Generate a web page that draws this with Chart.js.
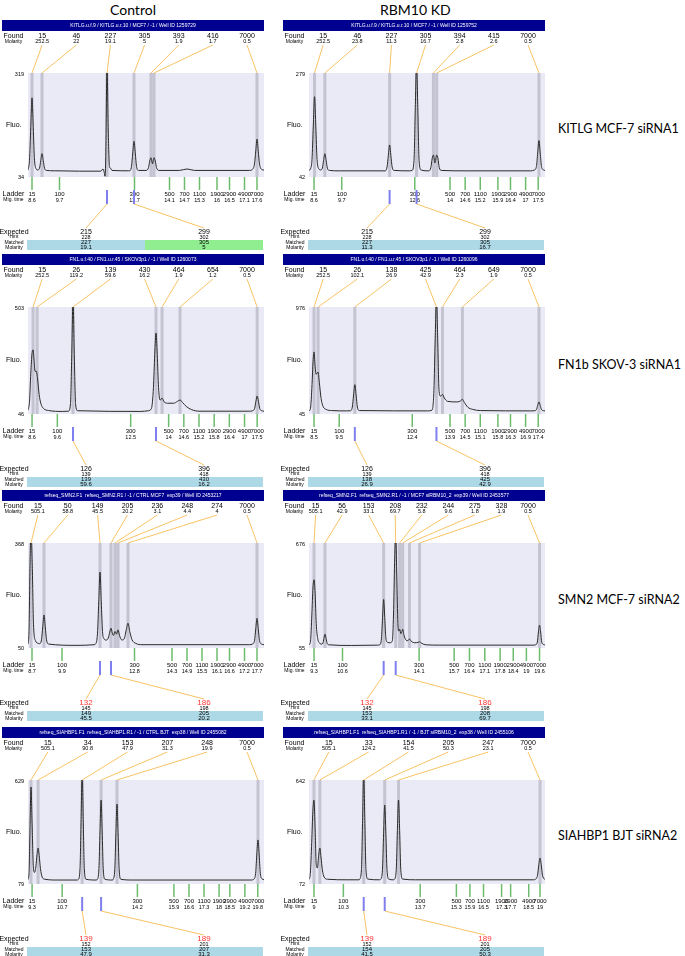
<!DOCTYPE html>
<html><head><meta charset="utf-8">
<script src="https://cdn.jsdelivr.net/npm/chart.js@4"></script>
<style>
html,body{margin:0;padding:0;background:#fff}
body{width:685px;height:956px;position:relative;overflow:hidden}
canvas{position:absolute}
.title{position:absolute;top:1px;font:14px Lato,"Open Sans",sans-serif;color:#000;white-space:nowrap}
.rowlab{position:absolute;left:558px;font:12.5px Lato,"Open Sans",sans-serif;color:#000;white-space:nowrap}
</style></head><body>
<div class="title" style="left:110px">Control</div>
<div class="title" style="left:380px">RBM10 KD</div>
<div class="rowlab" style="top:121px">KITLG MCF-7 siRNA1</div>
<div class="rowlab" style="top:357px">FN1b SKOV-3 siRNA1</div>
<div class="rowlab" style="top:592px">SMN2 MCF-7 siRNA2</div>
<div class="rowlab" style="top:828px">SIAHBP1 BJT siRNA2</div>
<script>
// ---------- shared ----------
const ladderSizes = [15, 100, 300, 500, 700, 1100, 1900, 2900, 4900, 7000];

// ---------- KITLG, Control ----------
const p1cHeader = "KITLG.u.f.9 / KITLG.u.r.10 / MCF7 / -1 / Well ID 1259729";
const p1cYRange = [34, 319];
const p1cXRange = [8.44, 17.88];
const p1cTime = [8.44,8.50,8.55,8.60,8.65,8.70,8.78, 8.82,8.90,8.95,9.0,9.05,9.10,9.18, 9.5,10.5,11.35,11.44,11.49,11.52, 11.55,11.60,11.65,11.70,11.74,11.80, 12.45,12.50,12.58,12.63,12.68,12.73,12.78,12.86, 13.18,13.26,13.31,13.36,13.42,13.48,13.53,13.58,13.66, 14.5,14.8,15.1, 17.30,17.42,17.50,17.55,17.60,17.65,17.70,17.78,17.88];
const p1cFluo = [53,80,170,251,170,80,55, 53,58,79,98,79,58,52, 51,50,50,56,46,36, 90,340,160,62,58,52, 51,51,63,100,132,100,63,52, 52,60,78,87,70,87,78,60,52, 52,56,52, 52,55,70,105,138,105,70,55,53];
const p1cFoundSize = ["15","46","227","305","393","416","7000"];
const p1cFoundMol = ["252.5","22","19.1","5","1.9","1.7","0.5"];
const p1cFoundTime = [8.6, 9.0, 11.6, 12.68, 13.36, 13.48, 17.6];
const p1cLadderTime = [8.6, 9.7, 12.7, 14.1, 14.7, 15.3, 16, 16.5, 17.1, 17.6];
const p1cExpected = ["215","299"], p1cHint = ["228","302"], p1cMatched = ["227","305"], p1cMatchMol = ["19.1","5"];
const p1cMatchedTime = [11.6, 12.68];

// ---------- KITLG, RBM10 KD ----------
const p1kHeader = "KITLG.u.f.9 / KITLG.u.r.10 / MCF7 / -1 / Well ID 1259752";
const p1kYRange = [42, 279];
const p1kXRange = [8.40, 17.77];
const p1kTime = [8.40,8.47,8.52,8.57,8.62,8.67,8.72,8.80, 8.86,8.93,8.98,9.03,9.08,9.13,9.21, 9.6,11.3, 11.42,11.50,11.55,11.6,11.65,11.70,11.78, 12.40,12.49,12.57,12.62,12.67,12.72,12.77,12.85, 13.16,13.24,13.29,13.34,13.40,13.47,13.52,13.57,13.65, 14.6,17.20, 17.35,17.43,17.48,17.53,17.58,17.63,17.71,17.77];
const p1kFluo = [57,62,82,158,225,158,82,60, 58,62,80,95,80,62,57, 56,56, 56,65,91,115,91,65,57, 56,57,80,200,300,200,80,58, 56,64,84,92,74,92,84,64,57, 56,56, 58,66,97,125,97,66,58,57];
const p1kFoundSize = ["15","46","227","305","394","415","7000"];
const p1kFoundMol = ["252.5","23.8","11.3","16.7","2.8","2.6","0.5"];
const p1kFoundTime = [8.62, 9.03, 11.6, 12.67, 13.34, 13.47, 17.53];
const p1kLadderTime = [8.6, 9.7, 12.6, 14, 14.6, 15.2, 15.9, 16.4, 17, 17.5];
const p1kExpected = ["215","299"], p1kHint = ["228","302"], p1kMatched = ["227","305"], p1kMatchMol = ["11.3","16.7"];
const p1kMatchedTime = [11.6, 12.67];

// ---------- FN1b, Control ----------
const p2cHeader = "FN1.u.f.40 / FN1.u.r.45 / SKOV3p1 / -1 / Well ID 1260073";
const p2cYRange = [46, 503];
const p2cXRange = [8.44, 17.77];
const p2cTime = [8.44,8.50,8.55,8.60,8.64,8.68,8.72,8.77,8.82,8.88,8.95,9.05,9.25,9.8, 10.04,10.12,10.17,10.22,10.27,10.32,10.40, 12.9,13.2,13.32,13.40,13.45,13.5,13.55,13.60,13.66,13.74,13.82,13.95,14.2,14.35,14.45,14.55,14.7,14.9,15.2,17.2, 17.32,17.40,17.45,17.5,17.55,17.60,17.68,17.77];
const p2cFluo = [62,100,220,305,320,275,228,228,195,130,90,70,61,57, 58,90,300,540,300,90,60, 57,60,70,160,300,392,300,160,105,114,98,92,92,100,106,95,78,65,58,58, 60,70,100,123,100,70,60,58];
const p2cFoundSize = ["15","26","139","430","464","654","7000"];
const p2cFoundMol = ["252.5","119.2","59.6","16.2","1.9","1.2","0.5"];
const p2cFoundTime = [8.64, 8.8, 10.22, 13.5, 13.74, 14.45, 17.5];
const p2cLadderTime = [8.6, 9.6, 12.5, 14, 14.6, 15.2, 15.8, 16.4, 17, 17.5];
const p2cExpected = ["126","396"], p2cHint = ["139","418"], p2cMatched = ["139","430"], p2cMatchMol = ["59.6","16.2"];
const p2cMatchedTime = [10.22, 13.5];

// ---------- FN1b, RBM10 KD ----------
const p2kHeader = "FN1.u.f.40 / FN1.u.r.45 / SKOV3p1 / -1 / Well ID 1260096";
const p2kYRange = [45, 976];
const p2kXRange = [8.30, 17.67];
const p2kTime = [8.30,8.36,8.42,8.46,8.50,8.54,8.58,8.62,8.66,8.71,8.78,8.86,8.98,9.2,9.8, 9.94,10.02,10.07,10.12,10.17,10.22,10.30, 13.0,13.18,13.26,13.31,13.36,13.41,13.46,13.52,13.6,13.67,13.8,14.2,14.32,14.39,14.47,14.6,14.8,15.1,17.1, 17.25,17.33,17.38,17.43,17.48,17.53,17.61,17.67];
const p2kFluo = [72,95,300,500,585,470,390,400,410,320,180,110,85,75,72, 73,106,210,300,210,106,75, 72,78,250,700,1050,700,260,200,215,185,155,150,160,172,145,105,85,75,72, 73,84,120,150,120,84,74,72];
const p2kFoundSize = ["15","26","138","425","464","649","7000"];
const p2kFoundMol = ["252.5","102.1","26.9","42.9","2.3","1.9","0.5"];
const p2kFoundTime = [8.5, 8.66, 10.12, 13.36, 13.6, 14.39, 17.43];
const p2kLadderTime = [8.5, 9.5, 12.4, 13.9, 14.5, 15.1, 15.8, 16.3, 16.9, 17.4];
const p2kExpected = ["126","396"], p2kHint = ["139","418"], p2kMatched = ["138","425"], p2kMatchMol = ["26.9","42.9"];
const p2kMatchedTime = [10.12, 13.36];

// ---------- SMN2, Control ----------
const p3cHeader = "refseq_SMN2.F1  refseq_SMN2.R1 / -1 / CTRL MCF7  exp39 / Well ID 2453217";
const p3cYRange = [50, 368];
const p3cXRange = [8.54, 17.98];
const p3cTime = [8.54,8.58,8.62,8.66,8.71,8.76,8.84,8.95, 9.0,9.08,9.13,9.18,9.23,9.28,9.36, 10.5,11.2, 11.24,11.32,11.37,11.42,11.47,11.52,11.58,11.66,11.75,11.81,11.86,11.91,11.96,12.02,12.08,12.14,12.20,12.3,12.40,12.47,12.54,12.61,12.7,12.85,13.1, 17.4, 17.52,17.60,17.65,17.7,17.75,17.80,17.88,17.98];
const p3cFluo = [62,100,300,400,300,120,72,64, 63,75,114,150,114,75,62, 58,60, 62,95,190,280,190,100,78,74,80,98,110,95,88,100,92,105,88,74,80,105,125,100,75,64,60, 60, 62,72,108,140,108,72,62,60];
const p3cFoundSize = ["15","50","149","205","236","248","274","7000"];
const p3cFoundMol = ["505.1","58.8","45.5","20.2","3.1","4.4","4","0.5"];
const p3cFoundTime = [8.66, 9.18, 11.42, 11.86, 12.02, 12.14, 12.54, 17.7];
const p3cLadderTime = [8.7, 9.9, 12.8, 14.3, 14.9, 15.5, 16.1, 16.6, 17.2, 17.7];
const p3cExpected = ["132","186"], p3cHint = ["145","198"], p3cMatched = ["149","205"], p3cMatchMol = ["45.5","20.2"];
const p3cMatchedTime = [11.42, 11.86];

// ---------- SMN2, RBM10 KD ----------
const p3kHeader = "refseq_SMN2.F1  refseq_SMN2.R1 / -1 / MCF7 siRBM10_2  exp39 / Well ID 2453577";
const p3kYRange = [55, 676];
const p3kXRange = [9.07, 19.85];
const p3kTime = [9.07,9.14,9.20,9.25,9.30,9.35,9.40,9.47,9.55, 9.62,9.70,9.75,9.8,9.85,9.90,9.98, 11.0,12.2, 12.30,12.38,12.43,12.48,12.53,12.58,12.66,12.78,12.88, 12.93,12.98,13.03,13.08,13.13,13.17,13.21,13.27,13.31,13.35,13.41,13.5,13.58,13.66,13.74,13.9,14.05,14.12,14.2,14.4,15,19.3, 19.42,19.50,19.55,19.6,19.65,19.70,19.78,19.85];
const p3kFluo = [73,95,250,410,459,380,200,110,85, 78,82,111,137,111,82,74, 70,72, 74,112,235,342,235,115,88,86,100, 250,560,740,480,200,155,166,140,150,166,130,102,98,108,95,86,88,92,84,74,72,72, 74,90,150,190,150,90,76,73];
const p3kFoundSize = ["15","56","153","208","232","244","275","328","7000"];
const p3kFoundMol = ["505.1","42.9","33.1","69.7","5.8","9.6","1.8","1.9","0.5"];
const p3kFoundTime = [9.3, 9.8, 12.48, 13.03, 13.21, 13.35, 13.66, 14.12, 19.6];
const p3kLadderTime = [9.3, 10.6, 14.1, 15.7, 16.4, 17.1, 17.8, 18.4, 19, 19.6];
const p3kExpected = ["132","186"], p3kHint = ["145","198"], p3kMatched = ["153","208"], p3kMatchMol = ["33.1","69.7"];
const p3kMatchedTime = [12.48, 13.03];

// ---------- SIAHBP1, Control ----------
const p4cHeader = "refseq_SIAHBP1.F1  refseq_SIAHBP1.R1 / -1 / CTRL BJT  exp38 / Well ID 2455082";
const p4cYRange = [79, 629];
const p4cXRange = [9.11, 20.09];
const p4cTime = [9.11,9.16,9.20,9.25,9.30,9.36,9.42,9.48,9.53,9.58,9.63,9.69,9.77,9.9,10.5,11.4, 11.45,11.53,11.58,11.63,11.68,11.73,11.81, 12.3, 12.33,12.41,12.46,12.51,12.56,12.61,12.69, 13.05, 13.07,13.15,13.20,13.25,13.30,13.35,13.43, 14,19.5, 19.61,19.70,19.76,19.81,19.86,19.92,20.0,20.09];
const p4cFluo = [102,140,360,592,400,170,140,175,235,269,230,160,115,104,100,100, 103,160,420,680,420,160,104, 100, 103,160,360,523,360,160,104, 100, 103,160,350,502,350,160,104, 100,100, 104,135,245,312,245,135,106,102];
const p4cFoundSize = ["15","34","153","207","248","7000"];
const p4cFoundMol = ["505.1","90.8","47.9","31.3","19.9","0.5"];
const p4cFoundTime = [9.25, 9.58, 11.63, 12.51, 13.25, 19.81];
const p4cLadderTime = [9.3, 10.7, 14.2, 15.9, 16.6, 17.3, 18, 18.5, 19.2, 19.8];
const p4cExpected = ["139","189"], p4cHint = ["152","201"], p4cMatched = ["153","207"], p4cMatchMol = ["47.9","31.3"];
const p4cMatchedTime = [11.63, 12.51];

// ---------- SIAHBP1, RBM10 KD ----------
const p4kHeader = "refseq_SIAHBP1.F1  refseq_SIAHBP1.R1 / -1 / BJT siRBM10_2  exp38 / Well ID 2455106";
const p4kYRange = [72, 642];
const p4kXRange = [8.78, 19.22];
const p4kTime = [8.78,8.84,8.90,8.95,9.0,9.05,9.10,9.15,9.21,9.26,9.31,9.37,9.45,9.6,10.5,11.0, 11.02,11.10,11.15,11.2,11.25,11.30,11.38, 11.9, 11.95,12.03,12.08,12.13,12.18,12.23,12.31, 12.5, 12.56,12.64,12.69,12.74,12.79,12.84,12.92, 13.5,18.7, 18.80,18.89,18.95,19.0,19.05,19.11,19.19,19.22];
const p4kFluo = [97,130,300,470,532,380,180,160,230,269,220,150,110,98,95,95, 98,150,420,680,420,150,99, 95, 98,150,350,505,350,150,99, 95, 98,150,365,532,365,150,99, 95,95, 98,120,180,214,180,120,99,97];
const p4kFoundSize = ["15","33","154","205","247","7000"];
const p4kFoundMol = ["505.1","124.2","41.5","50.3","23.1","0.5"];
const p4kFoundTime = [9.0, 9.26, 11.2, 12.13, 12.74, 19.0];
const p4kLadderTime = [9, 10.3, 13.7, 15.3, 15.9, 16.5, 17.3, 17.7, 18.5, 19];
const p4kExpected = ["139","189"], p4kHint = ["152","201"], p4kMatched = ["154","205"], p4kMatchMol = ["41.5","50.3"];
const p4kMatchedTime = [11.2, 12.13];

// ---------- panel assembly ----------
function mk(header,yR,xR,time,fluo,fs,fm,ft,lt,ex,hi,ma,mm,mt){
  return {header,yRange:yR,xRange:xR,time,fluo,foundSize:fs,foundMol:fm,foundTime:ft,ladderTime:lt,expected:ex,hint:hi,matched:ma,matchMol:mm,matchedTime:mt};
}
const panels = [
  Object.assign(mk(p1cHeader,p1cYRange,p1cXRange,p1cTime,p1cFluo,p1cFoundSize,p1cFoundMol,p1cFoundTime,p1cLadderTime,p1cExpected,p1cHint,p1cMatched,p1cMatchMol,p1cMatchedTime),{col:0,top:73,h:104,split:true,red:false}),
  Object.assign(mk(p1kHeader,p1kYRange,p1kXRange,p1kTime,p1kFluo,p1kFoundSize,p1kFoundMol,p1kFoundTime,p1kLadderTime,p1kExpected,p1kHint,p1kMatched,p1kMatchMol,p1kMatchedTime),{col:1,top:73,h:104,split:false,red:false}),
  Object.assign(mk(p2cHeader,p2cYRange,p2cXRange,p2cTime,p2cFluo,p2cFoundSize,p2cFoundMol,p2cFoundTime,p2cLadderTime,p2cExpected,p2cHint,p2cMatched,p2cMatchMol,p2cMatchedTime),{col:0,top:307,h:107,split:false,red:false}),
  Object.assign(mk(p2kHeader,p2kYRange,p2kXRange,p2kTime,p2kFluo,p2kFoundSize,p2kFoundMol,p2kFoundTime,p2kLadderTime,p2kExpected,p2kHint,p2kMatched,p2kMatchMol,p2kMatchedTime),{col:1,top:307,h:107,split:false,red:false}),
  Object.assign(mk(p3cHeader,p3cYRange,p3cXRange,p3cTime,p3cFluo,p3cFoundSize,p3cFoundMol,p3cFoundTime,p3cLadderTime,p3cExpected,p3cHint,p3cMatched,p3cMatchMol,p3cMatchedTime),{col:0,top:543,h:105,split:false,red:true}),
  Object.assign(mk(p3kHeader,p3kYRange,p3kXRange,p3kTime,p3kFluo,p3kFoundSize,p3kFoundMol,p3kFoundTime,p3kLadderTime,p3kExpected,p3kHint,p3kMatched,p3kMatchMol,p3kMatchedTime),{col:1,top:543,h:105,split:false,red:true}),
  Object.assign(mk(p4cHeader,p4cYRange,p4cXRange,p4cTime,p4cFluo,p4cFoundSize,p4cFoundMol,p4cFoundTime,p4cLadderTime,p4cExpected,p4cHint,p4cMatched,p4cMatchMol,p4cMatchedTime),{col:0,top:780,h:104,split:false,red:true}),
  Object.assign(mk(p4kHeader,p4kYRange,p4kXRange,p4kTime,p4kFluo,p4kFoundSize,p4kFoundMol,p4kFoundTime,p4kLadderTime,p4kExpected,p4kHint,p4kMatched,p4kMatchMol,p4kMatchedTime),{col:1,top:780,h:104,split:false,red:true})
];

const panelById = {};
const FONT = '"Liberation Sans", Arial, sans-serif';
const ORANGE = '#F8C365';

function txt(ctx, s, x, y, size, color, align) {
  ctx.font = size + 'px ' + FONT;
  ctx.fillStyle = color || '#000';
  ctx.textAlign = align || 'center';
  ctx.textBaseline = 'middle';
  ctx.fillText(s, x, y);
}
function seg(ctx, x1, y1, x2, y2, color, w) {
  ctx.beginPath(); ctx.strokeStyle = color; ctx.lineWidth = w || 1;
  ctx.moveTo(x1, y1); ctx.lineTo(x2, y2); ctx.stroke();
}

const decor = {
  id: 'decor',
  beforeDatasetsDraw(chart) {
    const p = panelById[chart.canvas.id]; if (!p) return;
    const ctx = chart.ctx, a = chart.chartArea, xs = chart.scales.x;
    ctx.save();
    ctx.fillStyle = '#EAEAF7';
    ctx.fillRect(a.left, a.top, a.right - a.left, a.bottom - a.top);
    ctx.fillStyle = 'rgba(178,178,192,0.7)';
    p.foundTime.forEach(t => { const x = xs.getPixelForValue(t); ctx.fillRect(x - 1.5, a.top, 3, a.bottom - a.top); });
    ctx.restore();
  },
  afterDraw(chart) {
    const p = panelById[chart.canvas.id]; if (!p) return;
    const ctx = chart.ctx, a = chart.chartArea, xs = chart.scales.x;
    const T = a.top, B = a.bottom;
    ctx.save();
    ctx.fillStyle = '#000090';
    ctx.fillRect(2, T - 53, 262, 11);
    txt(ctx, p.header, 133, T - 47.3, 5, '#fff');
    txt(ctx, 'Found', 13.5, T - 37, 7);
    txt(ctx, 'Molarity', 13.5, T - 31.5, 5);
    const n = p.foundSize.length;
    p.foundSize.forEach((s, i) => {
      const lx = 247 - (n - 1 - i) * 239 / n;
      txt(ctx, s, lx, T - 37, 7);
      txt(ctx, p.foundMol[i], lx, T - 31.5, 5.5);
      const px = xs.getPixelForValue(p.foundTime[i]);
      seg(ctx, lx, T - 28, px, T, ORANGE, 1);
    });
    txt(ctx, String(p.yRange[1]), 24, T + 1, 5.5, '#000', 'right');
    txt(ctx, String(p.yRange[0]), 24, B, 5.5, '#000', 'right');
    txt(ctx, 'Fluo.', 6, (T + B) / 2, 7, '#000', 'left');
    txt(ctx, 'Ladder', 13.5, B + 17, 7);
    txt(ctx, 'Mig. time', 13.5, B + 23, 5);
    p.ladderTime.forEach((t, i) => {
      const x = xs.getPixelForValue(t);
      seg(ctx, x, B, x, B + 13, '#6DBB6D', 1.5);
      txt(ctx, String(ladderSizes[i]), x, B + 17, 6);
      txt(ctx, String(t), x, B + 23, 5.5);
    });
    const cols = [86, 204];
    p.matchedTime.forEach((t, i) => {
      const x = xs.getPixelForValue(t);
      seg(ctx, x, B + 27, cols[i], B + 51, ORANGE, 1);
      seg(ctx, x, B + 13, x, B + 27, '#7F7FF0', 2);
    });
    ctx.fillStyle = '#ADD8E6';
    ctx.fillRect(27, B + 63, 236, 10);
    if (p.split) { ctx.fillStyle = '#90EE90'; ctx.fillRect(145, B + 63, 118, 10); }
    txt(ctx, 'Expected', 14, B + 55, 7);
    txt(ctx, 'Hint', 14, B + 60, 5);
    txt(ctx, 'Matched', 14, B + 65.5, 5);
    txt(ctx, 'Molarity', 14, B + 70.5, 5);
    cols.forEach((cx, i) => {
      txt(ctx, p.expected[i], cx, B + 55, p.red ? 8 : 7, p.red ? '#FF3333' : '#000');
      txt(ctx, p.hint[i], cx, B + 60, 5.5);
      txt(ctx, p.matched[i], cx, B + 65.5, 6);
      txt(ctx, p.matchMol[i], cx, B + 70.5, 6);
    });
    ctx.restore();
  }
};

panels.forEach((p, k) => {
  const cv = document.createElement('canvas');
  cv.id = 'panel' + k;
  const W = 272, H = 56 + p.h + 78;
  cv.width = W; cv.height = H;
  cv.style.left = (p.col ? 281 : 0) + 'px';
  cv.style.top = (p.top - 56) + 'px';
  cv.style.width = W + 'px'; cv.style.height = H + 'px';
  document.body.appendChild(cv);
  panelById[cv.id] = p;
  const pts = p.time.map((t, i) => ({ x: t, y: p.fluo[i] }));
  new Chart(cv, {
    type: 'line',
    data: { datasets: [{ data: pts, borderColor: '#2a2a2a', borderWidth: 1, pointRadius: 0, fill: false, cubicInterpolationMode: 'monotone' }] },
    options: {
      responsive: false, animation: false, devicePixelRatio: 1,
      layout: { padding: { left: 28, right: W - 264, top: 56, bottom: H - 56 - p.h } },
      plugins: { legend: { display: false }, tooltip: { enabled: false } },
      events: [],
      scales: {
        x: { type: 'linear', min: p.xRange[0], max: p.xRange[1], display: false },
        y: { type: 'linear', min: p.yRange[0], max: p.yRange[1], display: false }
      }
    },
    plugins: [decor]
  });
});
</script>
</body></html>
